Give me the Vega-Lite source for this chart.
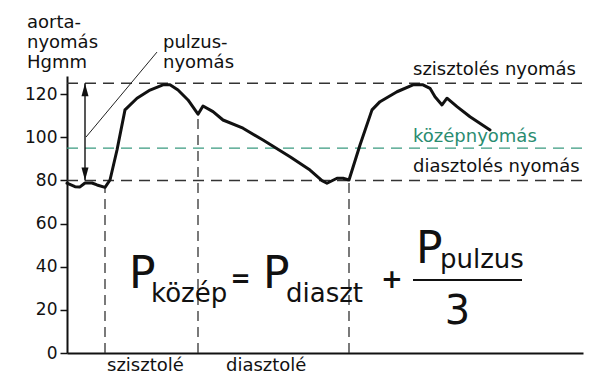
{
  "$schema": "https://vega.github.io/schema/vega-lite/v6.json",
  "width": 516,
  "height": 277,
  "autosize": {"type": "none"},
  "padding": {"left": 67, "top": 76, "right": 18, "bottom": 22},
  "background": "white",
  "config": {"view": {"stroke": null}},
  "datasets": {
    "curve": [
      {"t": 0, "v": 78.7}, {"t": 8, "v": 77.1}, {"t": 13, "v": 77.0}, {"t": 18, "v": 78.8},
      {"t": 25, "v": 78.8}, {"t": 30, "v": 77.9}, {"t": 38, "v": 76.8}, {"t": 43, "v": 80.2},
      {"t": 50, "v": 94.1}, {"t": 58, "v": 112.7}, {"t": 70, "v": 118.1}, {"t": 83, "v": 121.9},
      {"t": 96, "v": 124.3}, {"t": 103, "v": 124.3}, {"t": 111, "v": 121.9}, {"t": 121, "v": 117.3},
      {"t": 131, "v": 110.7}, {"t": 136, "v": 114.5}, {"t": 146, "v": 111.9}, {"t": 156, "v": 108.0},
      {"t": 176, "v": 104.2}, {"t": 196, "v": 98.7}, {"t": 223, "v": 91.0}, {"t": 243, "v": 84.8},
      {"t": 255, "v": 79.9}, {"t": 260, "v": 78.7}, {"t": 270, "v": 81.0}, {"t": 276, "v": 81.0},
      {"t": 282, "v": 80.2}, {"t": 293, "v": 96.4}, {"t": 305, "v": 112.7}, {"t": 313, "v": 116.5},
      {"t": 330, "v": 121.1}, {"t": 346, "v": 124.3}, {"t": 356, "v": 124.3}, {"t": 363, "v": 122.7},
      {"t": 368, "v": 118.8}, {"t": 375, "v": 115.0}, {"t": 380, "v": 118.1}, {"t": 390, "v": 114.2},
      {"t": 403, "v": 109.5}, {"t": 423, "v": 103.4}
    ],
    "hlines": [
      {"name": "szisztolés", "t": 0, "t2": 516, "v": 125},
      {"name": "diasztolés", "t": 0, "t2": 516, "v": 80}
    ],
    "meanline": [{"name": "közép", "t": 0, "t2": 516, "v": 95}],
    "vlines": [
      {"t": 38, "v": 0, "v2": 76.8},
      {"t": 131, "v": 0, "v2": 110.7},
      {"t": 282, "v": 0, "v2": 80.2}
    ],
    "arrow": [{"t": 18, "v": 80, "v2": 125}],
    "leader": [{"t": 19, "v": 100.1, "t2": 90, "v2": 139.5}],
    "fracline": [{"t": 346, "t2": 455, "v": 33.8}],
    "labels": [
      {"t": -40, "v": 150.7, "text": "aorta-"},
      {"t": -40, "v": 141.6, "text": "nyomás"},
      {"t": -40, "v": 132.1, "text": "Hgmm"},
      {"t": 96, "v": 141.4, "text": "pulzus-"},
      {"t": 96, "v": 132.1, "text": "nyomás"},
      {"t": 346, "v": 128.9, "text": "szisztolés nyomás"},
      {"t": 346, "v": 83.9, "text": "diasztolés nyomás"},
      {"t": 40, "v": -8.3, "text": "szisztolé"},
      {"t": 159, "v": -8.3, "text": "diasztolé"}
    ],
    "greenlabel": [{"t": 346, "v": 97.8, "text": "középnyomás"}],
    "bigP": [
      {"t": 62, "v": 30.1, "text": "P"},
      {"t": 196, "v": 30.1, "text": "P"},
      {"t": 349, "v": 41.7, "text": "P"}
    ],
    "subs": [
      {"t": 84, "v": 23.6, "text": "közép"},
      {"t": 219, "v": 23.6, "text": "diaszt"},
      {"t": 373, "v": 39.4, "text": "pulzus"}
    ],
    "eq": [{"t": 173.5, "v": 30.7, "text": "="}],
    "plus": [{"t": 325, "v": 30.0, "text": "+"}],
    "three": [{"t": 390.5, "v": 13.4, "text": "3"}],
    "headUp": [{"t": 18, "v": 125}],
    "headDown": [{"t": 18, "v": 80}]
  },
  "layer": [
    {
      "data": {"name": "hlines"},
      "mark": {"type": "rule", "color": "#333", "strokeWidth": 1.5, "strokeDash": [11, 7]},
      "encoding": {
        "x": {"field": "t", "type": "quantitative", "scale": {"domain": [0, 516], "nice": false, "zero": false},
          "axis": {"title": null, "labels": false, "ticks": false, "grid": false, "domain": true, "domainColor": "#111", "domainWidth": 2}},
        "x2": {"field": "t2"},
        "y": {"field": "v", "type": "quantitative", "scale": {"domain": [0, 128.4], "nice": false, "zero": false},
          "axis": {"title": null, "grid": false, "values": [0, 20, 40, 60, 80, 100, 120], "domainColor": "#111", "domainWidth": 2,
            "tickColor": "#111", "tickSize": 7, "tickWidth": 1.5, "labelFont": "DejaVu Sans", "labelFontSize": 17,
            "labelColor": "#111", "labelPadding": 3}}
      }
    },
    {
      "data": {"name": "meanline"},
      "mark": {"type": "rule", "color": "#3a9a80", "strokeWidth": 1.3, "strokeDash": [11, 7]},
      "encoding": {
        "x": {"field": "t", "type": "quantitative"},
        "x2": {"field": "t2"},
        "y": {"field": "v", "type": "quantitative"}
      }
    },
    {
      "data": {"name": "vlines"},
      "mark": {"type": "rule", "color": "#333", "strokeWidth": 1.3, "strokeDash": [10, 6]},
      "encoding": {
        "x": {"field": "t", "type": "quantitative"},
        "y": {"field": "v", "type": "quantitative"},
        "y2": {"field": "v2"}
      }
    },
    {
      "data": {"name": "arrow"},
      "mark": {"type": "rule", "color": "#111", "strokeWidth": 1.4},
      "encoding": {
        "x": {"field": "t", "type": "quantitative"},
        "y": {"field": "v", "type": "quantitative"},
        "y2": {"field": "v2"}
      }
    },
    {
      "data": {"name": "headUp"},
      "mark": {"type": "point", "shape": "M0,0L0.7,2.6L-0.7,2.6Z", "size": 100, "filled": true, "color": "#111", "opacity": 1, "strokeWidth": 0},
      "encoding": {
        "x": {"field": "t", "type": "quantitative"},
        "y": {"field": "v", "type": "quantitative"}
      }
    },
    {
      "data": {"name": "headDown"},
      "mark": {"type": "point", "shape": "M0,0L0.7,-2.6L-0.7,-2.6Z", "size": 100, "filled": true, "color": "#111", "opacity": 1, "strokeWidth": 0},
      "encoding": {
        "x": {"field": "t", "type": "quantitative"},
        "y": {"field": "v", "type": "quantitative"}
      }
    },
    {
      "data": {"name": "leader"},
      "mark": {"type": "rule", "color": "#222", "strokeWidth": 1},
      "encoding": {
        "x": {"field": "t", "type": "quantitative"},
        "x2": {"field": "t2"},
        "y": {"field": "v", "type": "quantitative"},
        "y2": {"field": "v2"}
      }
    },
    {
      "data": {"name": "curve"},
      "mark": {"type": "line", "color": "#111", "strokeWidth": 3, "strokeJoin": "round", "strokeCap": "round"},
      "encoding": {
        "x": {"field": "t", "type": "quantitative"},
        "y": {"field": "v", "type": "quantitative"}
      }
    },
    {
      "data": {"name": "fracline"},
      "mark": {"type": "rule", "color": "#111", "strokeWidth": 2},
      "encoding": {
        "x": {"field": "t", "type": "quantitative"},
        "x2": {"field": "t2"},
        "y": {"field": "v", "type": "quantitative"}
      }
    },
    {
      "data": {"name": "labels"},
      "mark": {"type": "text", "font": "DejaVu Sans", "fontSize": 18, "color": "#111", "align": "left", "baseline": "alphabetic"},
      "encoding": {
        "x": {"field": "t", "type": "quantitative"},
        "y": {"field": "v", "type": "quantitative"},
        "text": {"field": "text"}
      }
    },
    {
      "data": {"name": "greenlabel"},
      "mark": {"type": "text", "font": "DejaVu Sans", "fontSize": 18, "color": "#2a8c70", "align": "left", "baseline": "alphabetic"},
      "encoding": {
        "x": {"field": "t", "type": "quantitative"},
        "y": {"field": "v", "type": "quantitative"},
        "text": {"field": "text"}
      }
    },
    {
      "data": {"name": "bigP"},
      "mark": {"type": "text", "font": "DejaVu Sans", "fontSize": 44, "color": "#111", "align": "left", "baseline": "alphabetic"},
      "encoding": {
        "x": {"field": "t", "type": "quantitative"},
        "y": {"field": "v", "type": "quantitative"},
        "text": {"field": "text"}
      }
    },
    {
      "data": {"name": "subs"},
      "mark": {"type": "text", "font": "DejaVu Sans", "fontSize": 26, "color": "#111", "align": "left", "baseline": "alphabetic"},
      "encoding": {
        "x": {"field": "t", "type": "quantitative"},
        "y": {"field": "v", "type": "quantitative"},
        "text": {"field": "text"}
      }
    },
    {
      "data": {"name": "eq"},
      "mark": {"type": "text", "font": "DejaVu Sans", "fontSize": 24, "fontWeight": "bold", "color": "#111", "align": "center", "baseline": "alphabetic"},
      "encoding": {
        "x": {"field": "t", "type": "quantitative"},
        "y": {"field": "v", "type": "quantitative"},
        "text": {"field": "text"}
      }
    },
    {
      "data": {"name": "plus"},
      "mark": {"type": "text", "font": "DejaVu Sans", "fontSize": 26, "fontWeight": "bold", "color": "#111", "align": "center", "baseline": "alphabetic"},
      "encoding": {
        "x": {"field": "t", "type": "quantitative"},
        "y": {"field": "v", "type": "quantitative"},
        "text": {"field": "text"}
      }
    },
    {
      "data": {"name": "three"},
      "mark": {"type": "text", "font": "DejaVu Sans", "fontSize": 40, "color": "#111", "align": "center", "baseline": "alphabetic"},
      "encoding": {
        "x": {"field": "t", "type": "quantitative"},
        "y": {"field": "v", "type": "quantitative"},
        "text": {"field": "text"}
      }
    }
  ]
}
